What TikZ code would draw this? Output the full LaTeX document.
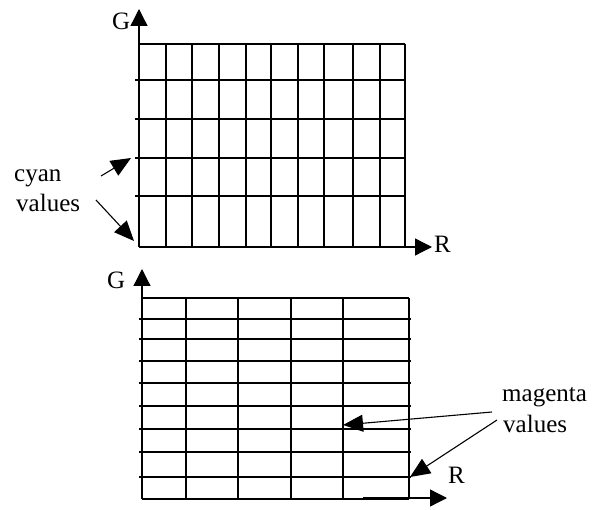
\documentclass[tikz,border=0pt]{standalone}
\usepackage{fontspec}
\setmainfont{Liberation Serif}
\usetikzlibrary{arrows.meta}
\begin{document}
\begin{tikzpicture}[x=1pt,y=-1pt,
  gridline/.style={line width=1.3pt,black},
  axis/.style={line width=1.3pt,-{Triangle[length=17pt,width=17pt]}},
  pointer/.style={line width=1.1pt,-{Triangle[length=20pt,width=17pt]}},
  lbl/.style={anchor=base west,inner sep=0pt,font=\fontsize{25}{30}\selectfont}]
\useasboundingbox (0,0) rectangle (605,510);
% ---------- top grid ----------
\foreach \x in {166,192,219,246,271,298,324,353,380,405}
  \draw[gridline] (\x,44) -- (\x,247);
\draw[gridline] (139,44) -- (405,44);
\foreach \y in {80,119,158,196}
  \draw[gridline] (135,\y) -- (405,\y);
\coordinate (tG0) at (139,247);
\coordinate (tG1) at (139,9);
\coordinate (tR1) at (432,247);
\draw[axis] (tG0) -- (tG1);
\draw[axis] (tG0) -- (tR1);
\node[lbl] (tG) at (112,30) {G};
\node[lbl] (tR) at (434,253) {R};
\node[lbl] (cyan) at (14,182) {cyan};
\node[lbl] (cval) at (16,212) {values};
\coordinate (c1s) at (101,176);
\coordinate (c1e) at (131,158);
\coordinate (c2s) at (96,200);
\coordinate (c2e) at (134,241);
\draw[pointer] (c1s) -- (c1e);
\draw[pointer] (c2s) -- (c2e);
% ---------- bottom grid ----------
\foreach \x in {186,238,291,343,409}
  \draw[gridline] (\x,298) -- (\x,499);
\draw[gridline] (142,298) -- (409,298);
\foreach \y in {319,339,361,383,406,429,452,477}
  \draw[gridline] (139,\y) -- (411,\y);
\draw[gridline] (142,499) -- (409,499);
\coordinate (bG0) at (142,499);
\coordinate (bG1) at (142,269);
\draw[axis] (bG0) -- (bG1);
\coordinate (bR0) at (363,498);
\coordinate (bR1) at (447,498);
\draw[axis] (bR0) -- (bR1);
\node[lbl] (bG) at (107,289) {G};
\node[lbl] (bR) at (448,483) {R};
\node[lbl] (mag) at (502,402) {magenta};
\node[lbl] (mval) at (503,432) {values};
\coordinate (m1s) at (492,412);
\coordinate (m1e) at (343,425);
\coordinate (m2s) at (497,420);
\coordinate (m2e) at (410,477);
\draw[pointer] (m1s) -- (m1e);
\draw[pointer] (m2s) -- (m2e);
\end{tikzpicture}
\end{document}
